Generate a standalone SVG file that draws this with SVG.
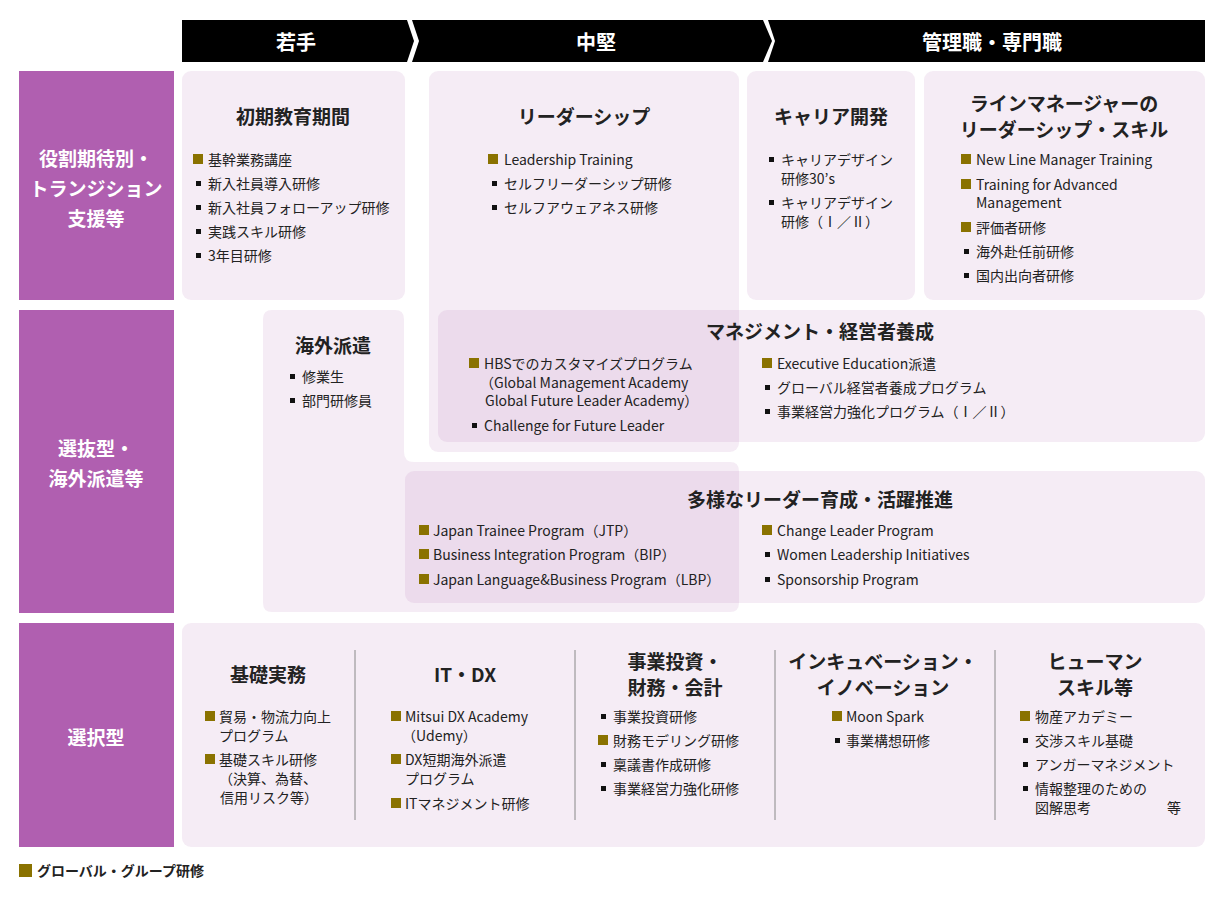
<svg xmlns="http://www.w3.org/2000/svg" width="1224" height="900" viewBox="0 0 1224 900">
<style>
text{font-family:"Noto Sans CJK JP","Noto Sans",sans-serif;dominant-baseline:central;fill:#222}
.t{font-size:19px;font-weight:bold;text-anchor:middle}
.i{font-size:14px}
.h{font-size:20px;font-weight:bold;fill:#fff;text-anchor:middle}
.l{font-size:19px;font-weight:bold;fill:#fff;text-anchor:middle}
.bx{fill:#b05fb0;fill-opacity:0.12}
.side{fill:#b05fb0}
.g{fill:#8a7200}
.k{fill:#111}
.dv{stroke:#888;stroke-width:1}
</style>
<defs>
<rect id="gq" width="10" height="10" class="g"/>
<rect id="bq" width="5" height="5" class="k"/>
</defs>
<g id="header">
<polygon points="182,20 407,20 414,41 407,62 182,62" fill="#000"/>
<polygon points="412,20 763,20 772,41 763,62 412,62 419,41" fill="#000"/>
<polygon points="768,20 1205,20 1205,62 768,62 775,41" fill="#000"/>
<text class="h" x="296" y="41">若手</text>
<text class="h" x="596" y="41">中堅</text>
<text class="h" x="992" y="41">管理職・専門職</text>
</g>
<g id="side-labels">
<rect class="side" x="19" y="71" width="155" height="229"/>
<rect class="side" x="19" y="310" width="155" height="303"/>
<rect class="side" x="19" y="623" width="155" height="224"/>
<text class="l" x="96" y="157">役割期待別・</text>
<text class="l" x="96" y="187">トランジション</text>
<text class="l" x="96" y="217">支援等</text>
<text class="l" x="96" y="447">選抜型・</text>
<text class="l" x="96" y="477">海外派遣等</text>
<text class="l" x="96" y="736">選択型</text>
</g>
<g id="boxes">
<rect class="bx" x="182" y="71" width="223" height="229" rx="9"/>
<rect class="bx" x="429" y="71" width="310" height="381" rx="9"/>
<rect class="bx" x="747" y="71" width="168" height="229" rx="9"/>
<rect class="bx" x="924" y="71" width="281" height="229" rx="9"/>
<path class="bx" d="M272,310 H395 Q404,310 404,319 V452 Q404,462 414,462 H730 Q739,462 739,471 V603 Q739,612 730,612 H272 Q263,612 263,603 V319 Q263,310 272,310 Z"/>
<rect class="bx" x="438" y="310" width="767" height="132" rx="9"/>
<rect class="bx" x="405" y="471" width="800" height="132" rx="9"/>
<rect class="bx" x="182" y="623" width="1023" height="224" rx="9"/>
</g>
<g id="connectors">
<line class="dv" x1="355" y1="650" x2="355" y2="820"/>
<line class="dv" x1="575" y1="650" x2="575" y2="820"/>
<line class="dv" x1="775" y1="650" x2="775" y2="820"/>
<line class="dv" x1="995" y1="650" x2="995" y2="820"/>
</g>
<g id="node-shoki">
<text class="t" x="293" y="115">初期教育期間</text>
<use href="#gq" x="193" y="154"/><text class="i" x="208" y="159">基幹業務講座</text>
<use href="#bq" x="196" y="181"/><text class="i" x="208" y="183">新入社員導入研修</text>
<use href="#bq" x="196" y="205"/><text class="i" x="208" y="207">新入社員フォローアップ研修</text>
<use href="#bq" x="196" y="229"/><text class="i" x="208" y="231">実践スキル研修</text>
<use href="#bq" x="196" y="253"/><text class="i" x="208" y="255">3年目研修</text>
</g>
<g id="node-leader">
<text class="t" x="584" y="115">リーダーシップ</text>
<use href="#gq" x="488" y="154"/><text class="i" x="504" y="159">Leadership Training</text>
<use href="#bq" x="492" y="181"/><text class="i" x="504" y="183">セルフリーダーシップ研修</text>
<use href="#bq" x="492" y="205"/><text class="i" x="504" y="207">セルフアウェアネス研修</text>
</g>
<g id="node-career">
<text class="t" x="831" y="115">キャリア開発</text>
<use href="#bq" x="769" y="157"/><text class="i" x="781" y="159">キャリアデザイン</text>
<text class="i" x="781" y="178">研修30’s</text>
<use href="#bq" x="769" y="200"/><text class="i" x="781" y="202">キャリアデザイン</text>
<text class="i" x="781" y="221">研修（Ⅰ／Ⅱ）</text>
</g>
<g id="node-line">
<text class="t" x="1064" y="102">ラインマネージャーの</text>
<text class="t" x="1064" y="128">リーダーシップ・スキル</text>
<use href="#gq" x="961" y="154"/><text class="i" x="976" y="159">New Line Manager Training</text>
<use href="#gq" x="961" y="179"/><text class="i" x="976" y="184">Training for Advanced</text>
<text class="i" x="976" y="202">Management</text>
<use href="#gq" x="961" y="222"/><text class="i" x="976" y="227">評価者研修</text>
<use href="#bq" x="964" y="249"/><text class="i" x="976" y="251">海外赴任前研修</text>
<use href="#bq" x="964" y="273"/><text class="i" x="976" y="275">国内出向者研修</text>
</g>
<g id="node-haken">
<text class="t" x="333" y="344">海外派遣</text>
<use href="#bq" x="290" y="374"/><text class="i" x="302" y="376">修業生</text>
<use href="#bq" x="290" y="398"/><text class="i" x="302" y="400">部門研修員</text>
</g>
<g id="node-mgmt">
<text class="t" x="820" y="330">マネジメント・経営者養成</text>
<use href="#gq" x="469" y="358"/><text class="i" x="484" y="363">HBSでのカスタマイズプログラム</text>
<text class="i" x="480" y="382">（Global Management Academy</text>
<text class="i" x="485" y="400">Global Future Leader Academy）</text>
<use href="#bq" x="472" y="423"/><text class="i" x="484" y="425">Challenge for Future Leader</text>
<use href="#gq" x="762" y="358"/><text class="i" x="777" y="363">Executive Education派遣</text>
<use href="#bq" x="765" y="385"/><text class="i" x="777" y="387">グローバル経営者養成プログラム</text>
<use href="#bq" x="765" y="409"/><text class="i" x="777" y="411">事業経営力強化プログラム（Ⅰ／Ⅱ）</text>
</g>
<g id="node-diverse">
<text class="t" x="820" y="498">多様なリーダー育成・活躍推進</text>
<use href="#gq" x="419" y="525"/><text class="i" x="433" y="530">Japan Trainee Program（JTP）</text>
<use href="#gq" x="419" y="549"/><text class="i" x="433" y="554">Business Integration Program（BIP）</text>
<use href="#gq" x="419" y="574"/><text class="i" x="433" y="579">Japan Language&amp;Business Program（LBP）</text>
<use href="#gq" x="762" y="525"/><text class="i" x="777" y="530">Change Leader Program</text>
<use href="#bq" x="765" y="552"/><text class="i" x="777" y="554">Women Leadership Initiatives</text>
<use href="#bq" x="765" y="577"/><text class="i" x="777" y="579">Sponsorship Program</text>
</g>
<g id="node-kiso">
<text class="t" x="268" y="673">基礎実務</text>
<use href="#gq" x="205" y="711"/><text class="i" x="219" y="716">貿易・物流力向上</text>
<text class="i" x="219" y="735">プログラム</text>
<use href="#gq" x="205" y="754"/><text class="i" x="219" y="759">基礎スキル研修</text>
<text class="i" x="219" y="778">（決算、為替、</text>
<text class="i" x="220" y="797">信用リスク等）</text>
</g>
<g id="node-itdx">
<text class="t" x="465" y="673">IT・DX</text>
<use href="#gq" x="391" y="711"/><text class="i" x="405" y="716">Mitsui DX Academy</text>
<text class="i" x="402" y="735">（Udemy）</text>
<use href="#gq" x="391" y="754"/><text class="i" x="405" y="759">DX短期海外派遣</text>
<text class="i" x="405" y="778">プログラム</text>
<use href="#gq" x="391" y="798"/><text class="i" x="405" y="803">ITマネジメント研修</text>
</g>
<g id="node-jigyo">
<text class="t" x="675" y="660">事業投資・</text>
<text class="t" x="675" y="686">財務・会計</text>
<use href="#bq" x="601" y="714"/><text class="i" x="613" y="716">事業投資研修</text>
<use href="#gq" x="598" y="735"/><text class="i" x="613" y="740">財務モデリング研修</text>
<use href="#bq" x="601" y="762"/><text class="i" x="613" y="764">稟議書作成研修</text>
<use href="#bq" x="601" y="786"/><text class="i" x="613" y="788">事業経営力強化研修</text>
</g>
<g id="node-incub">
<text class="t" x="883" y="660">インキュベーション・</text>
<text class="t" x="883" y="686">イノベーション</text>
<use href="#gq" x="832" y="711"/><text class="i" x="846" y="716">Moon Spark</text>
<use href="#bq" x="835" y="738"/><text class="i" x="846" y="740">事業構想研修</text>
</g>
<g id="node-human">
<text class="t" x="1095" y="660">ヒューマン</text>
<text class="t" x="1095" y="686">スキル等</text>
<use href="#gq" x="1020" y="711"/><text class="i" x="1035" y="716">物産アカデミー</text>
<use href="#bq" x="1023" y="738"/><text class="i" x="1035" y="740">交渉スキル基礎</text>
<use href="#bq" x="1023" y="762"/><text class="i" x="1035" y="764">アンガーマネジメント</text>
<use href="#bq" x="1023" y="786"/><text class="i" x="1035" y="788">情報整理のための</text>
<text class="i" x="1035" y="807">図解思考</text>
<text class="i" x="1167" y="807">等</text>
</g>
<g id="legend">
<rect x="19" y="864" width="13" height="13" class="g"/>
<text x="37" y="870" style="font-size:14px;font-weight:bold">グローバル・グループ研修</text>
</g>
</svg>
